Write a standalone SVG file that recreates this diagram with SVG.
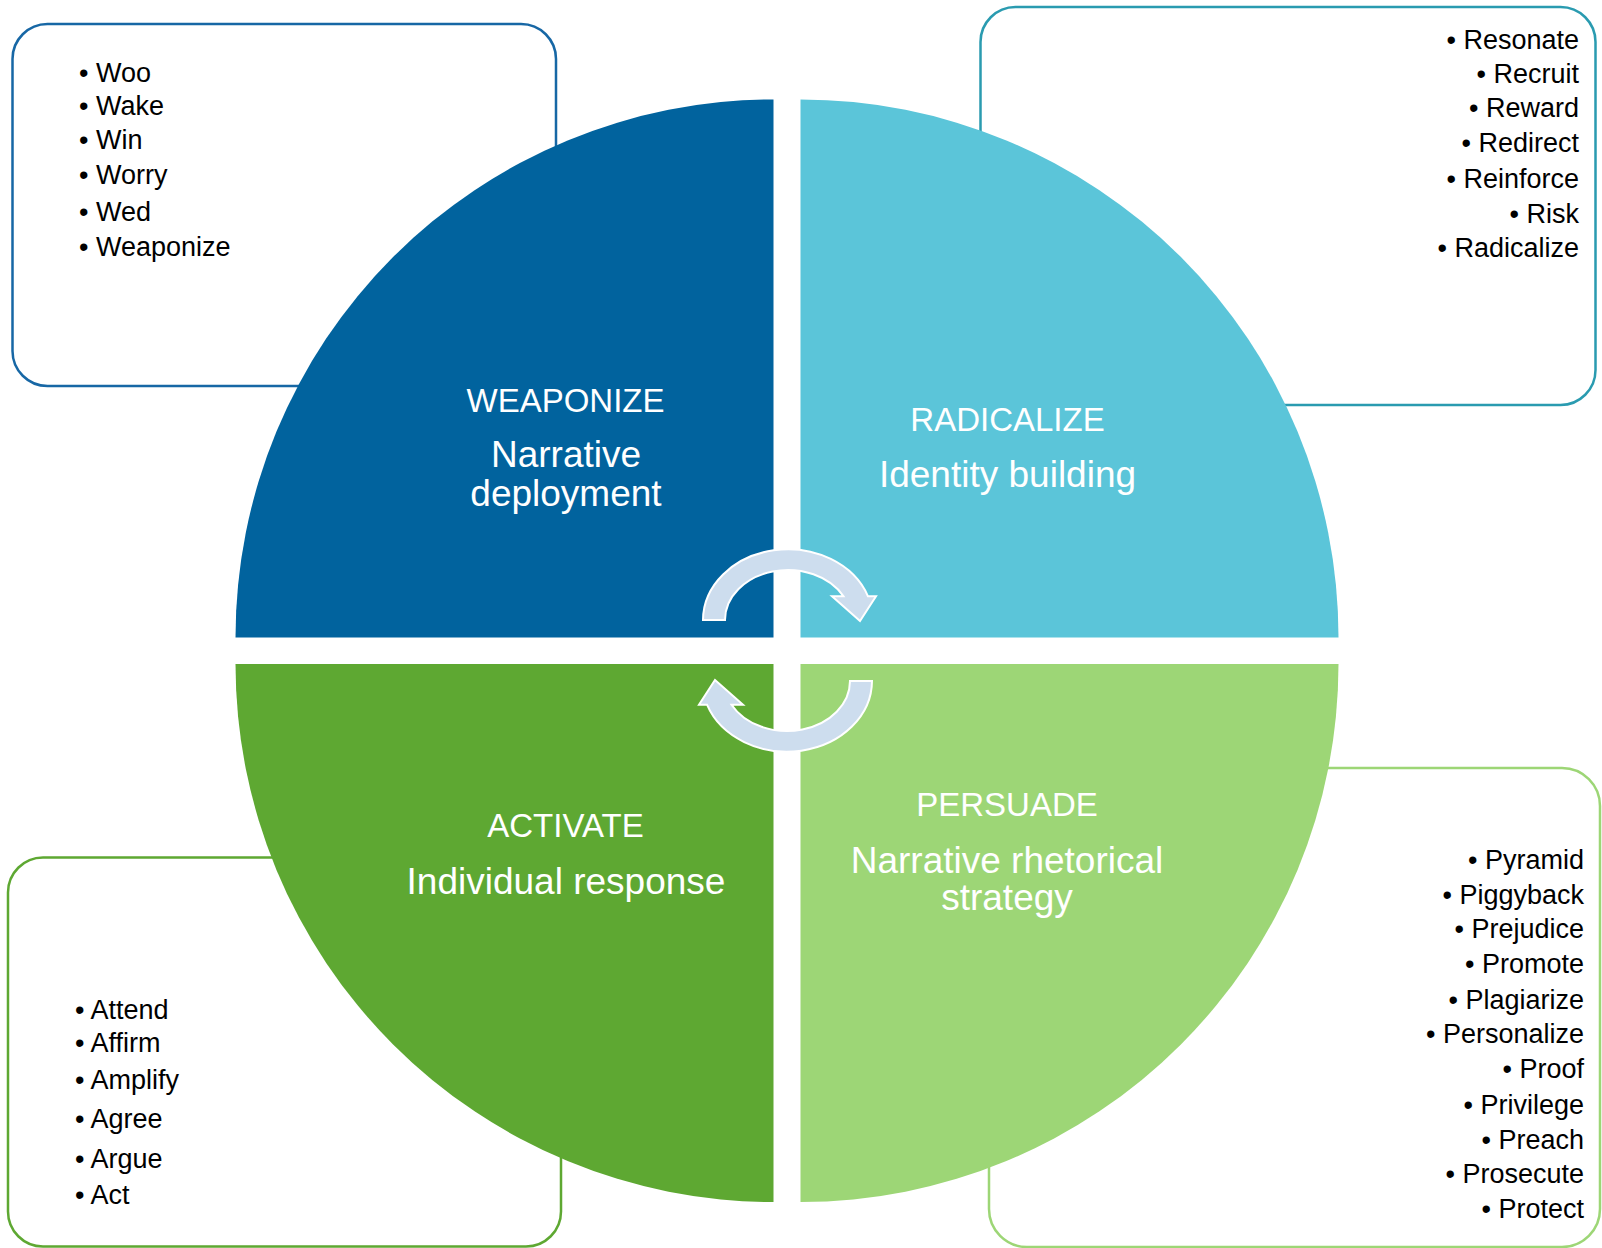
<svg xmlns="http://www.w3.org/2000/svg" width="1602" height="1248" viewBox="0 0 1602 1248">
<style>
.box{fill:#fff;stroke-width:2.5}
.li{font-family:"Liberation Sans",Arial,sans-serif;font-size:27px;fill:#000}
.r{text-anchor:end}
.t{font-family:"Liberation Sans",Arial,sans-serif;font-size:33px;fill:#fff;text-anchor:middle}
.s{font-family:"Liberation Sans",Arial,sans-serif;font-size:37px;fill:#fff;text-anchor:middle}
.arrow{fill:#CDDDEE;stroke:#fff;stroke-width:2;stroke-linejoin:miter}
</style>
<defs>
<path id="arr" d="M 703 620 A 85 71 0 0 1 868 596.3 L 876 596.3 L 860 621 L 832 596.3 L 843.5 596.3 A 63 50 0 0 0 725 620 Z"/>
</defs>
<rect width="1602" height="1248" fill="#fff"/>
<g id="box-weaponize">
<rect class="box" x="12.5" y="24" width="543.5" height="362" rx="35" stroke="#1767A5"/>
<text class="li" x="79" y="82">• Woo</text>
<text class="li" x="79" y="115">• Wake</text>
<text class="li" x="79" y="149">• Win</text>
<text class="li" x="79" y="184">• Worry</text>
<text class="li" x="79" y="221">• Wed</text>
<text class="li" x="79" y="256">• Weaponize</text>
</g>
<g id="box-radicalize">
<rect class="box" x="980.5" y="7" width="615" height="398" rx="35" stroke="#2A9BB0"/>
<text class="li r" x="1579" y="49">• Resonate</text>
<text class="li r" x="1579" y="83">• Recruit</text>
<text class="li r" x="1579" y="117">• Reward</text>
<text class="li r" x="1579" y="152">• Redirect</text>
<text class="li r" x="1579" y="188">• Reinforce</text>
<text class="li r" x="1579" y="223">• Risk</text>
<text class="li r" x="1579" y="257">• Radicalize</text>
</g>
<g id="box-activate">
<rect class="box" x="8" y="857.5" width="553" height="389" rx="35" stroke="#5EA832"/>
<text class="li" x="75" y="1019">• Attend</text>
<text class="li" x="75" y="1052">• Affirm</text>
<text class="li" x="75" y="1089">• Amplify</text>
<text class="li" x="75" y="1128">• Agree</text>
<text class="li" x="75" y="1168">• Argue</text>
<text class="li" x="75" y="1204">• Act</text>
</g>
<g id="box-persuade">
<rect class="box" x="989" y="768" width="611" height="479" rx="38" stroke="#9DD676"/>
<text class="li r" x="1584" y="869">• Pyramid</text>
<text class="li r" x="1584" y="904">• Piggyback</text>
<text class="li r" x="1584" y="938">• Prejudice</text>
<text class="li r" x="1584" y="973">• Promote</text>
<text class="li r" x="1584" y="1009">• Plagiarize</text>
<text class="li r" x="1584" y="1043">• Personalize</text>
<text class="li r" x="1584" y="1078">• Proof</text>
<text class="li r" x="1584" y="1114">• Privilege</text>
<text class="li r" x="1584" y="1149">• Preach</text>
<text class="li r" x="1584" y="1183">• Prosecute</text>
<text class="li r" x="1584" y="1218">• Protect</text>
</g>
<g id="quad-weaponize">
<path d="M 773.5 637.5 L 235.5 637.5 A 538 538 0 0 1 773.5 99.5 Z" fill="#01639E"/>
<text class="t" x="565.5" y="412">WEAPONIZE</text>
<text class="s" x="566" y="467">Narrative</text>
<text class="s" x="566" y="506">deployment</text>
</g>
<g id="quad-radicalize">
<path d="M 800.5 637.5 L 800.5 99.5 A 538 538 0 0 1 1338.5 637.5 Z" fill="#5BC5D9"/>
<text class="t" x="1007.5" y="431">RADICALIZE</text>
<text class="s" x="1007.5" y="487">Identity building</text>
</g>
<g id="quad-persuade">
<path d="M 800.5 664 L 1338.5 664 A 538 538 0 0 1 800.5 1202 Z" fill="#9DD676"/>
<text class="t" x="1007" y="816">PERSUADE</text>
<text class="s" x="1007" y="873">Narrative rhetorical</text>
<text class="s" x="1007" y="910">strategy</text>
</g>
<g id="quad-activate">
<path d="M 773.5 664 L 773.5 1202 A 538 538 0 0 1 235.5 664 Z" fill="#5EA832"/>
<text class="t" x="565.5" y="837">ACTIVATE</text>
<text class="s" x="566" y="894">Individual response</text>
</g>
<g id="connectors">
<use href="#arr" class="arrow"/>
<use href="#arr" class="arrow" transform="rotate(180 787.5 650.5)"/>
</g>
</svg>
